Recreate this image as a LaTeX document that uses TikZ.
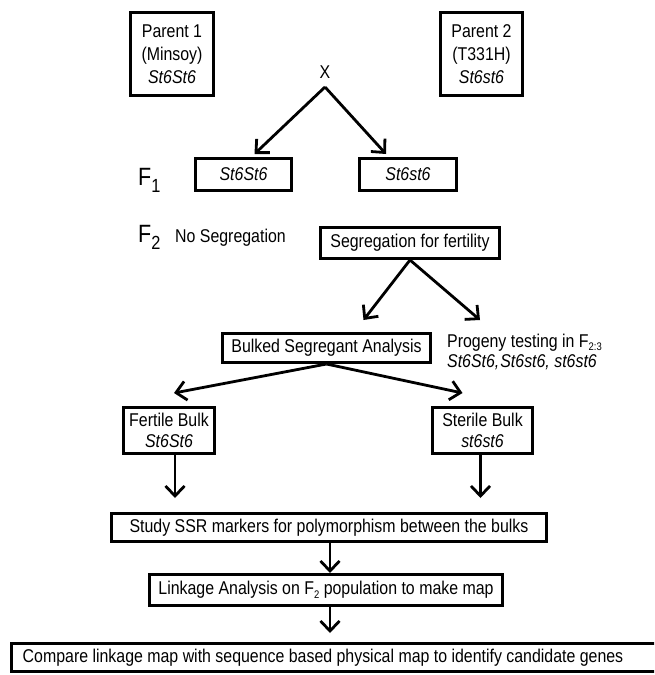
\documentclass[tikz,border=0pt]{standalone}
\usepackage{fontspec}
\setmainfont{Liberation Sans}[FakeStretch=0.86]
\usetikzlibrary{arrows.meta}

\begin{document}
\begin{tikzpicture}[
    x=1pt, y=-1pt,
    every node/.style={font=\fontsize{18.5}{23}\selectfont, inner sep=0pt},
    box/.style={draw, line width=3pt, align=center},
    bulk/.style={box, font=\fontsize{18.5}{21}\selectfont},
    flabel/.style={font=\fontsize{25}{25}\selectfont, anchor=base west},
    arr/.style={line width=2.8pt, -{Straight Barb[length=10pt, width=19pt]}}
]
    \clip (0,0) rectangle (654,675);

    % Parents and cross
    \node[box, minimum width=83pt, minimum height=83pt] (p1) at (172,54) {Parent 1\\(Minsoy)\\\textit{St6St6}};
    \node[box, minimum width=82pt, minimum height=83pt] (p2) at (481.5,54) {Parent 2\\(T331H)\\\textit{St6st6}};
    \node (cross) at (325,72) {X};
    \coordinate (apex) at (325,87);

    % F1 generation
    \node[flabel] (f1) at (138,185) {F\raisebox{-7pt}{\fontsize{19}{19}\selectfont 1}};
    \node[box, minimum width=96pt, minimum height=32pt] (f1a) at (243.5,174.5) {\textit{St6St6}};
    \node[box, minimum width=97pt, minimum height=32pt] (f1b) at (408,174.5) {\textit{St6st6}};

    % F2 generation
    \node[flabel] (f2) at (138,242) {F\raisebox{-7pt}{\fontsize{19}{19}\selectfont 2}};
    \node[anchor=base west] (noseg) at (175,242) {No Segregation};
    \node[box, minimum width=179pt, minimum height=31pt] (seg) at (410,243) {Segregation for fertility};

    % Bulked segregant analysis and progeny testing
    \node[box, minimum width=208pt, minimum height=29pt] (bsa) at (326.5,348) {Bulked Segregant Analysis};
    \node[anchor=west, align=left, font=\fontsize{18.5}{20}\selectfont] (prog) at (447,352)
        {Progeny testing in F\raisebox{-3pt}{\fontsize{11}{11}\selectfont 2:3}\\\textit{St6St6,\kern1pt St6st6, st6st6}};
    \coordinate (progtip) at (480,320);

    % Bulks
    \node[bulk, minimum width=91pt, minimum height=46pt] (fert) at (169,430.5) {Fertile Bulk\\\textit{St6St6}};
    \node[bulk, minimum width=100pt, minimum height=46pt] (ster) at (482.5,430.5) {Sterile Bulk\\\textit{st6st6}};

    % Marker study, mapping and comparison
    \node[box, minimum width=435pt, minimum height=28pt] (ssr) at (329,527.5) {Study SSR markers for polymorphism between the bulks};
    \node[box, minimum width=353pt, minimum height=31pt] (link) at (326,590)
        {Linkage Analysis on F\raisebox{-4pt}{\fontsize{11}{11}\selectfont 2} population to make map};
    \node[box, minimum width=651pt, minimum height=28pt] (comp) at (337,657.5)
        {Compare linkage map with sequence based physical map to identify candidate genes\hspace{28pt}};

    % Arrows
    \draw[arr] (apex) -- ([xshift=11pt, yshift=3pt]f1a.north);
    \draw[arr] (apex) -- ([xshift=-22pt, yshift=3pt]f1b.north);

    \draw[arr] (seg.south) -- ([xshift=37pt, yshift=12pt]bsa.north);
    \draw[arr] (seg.south) -- (progtip);

    \draw[arr] (bsa.south) -- ([xshift=5pt, yshift=13pt]fert.north);
    \draw[arr] (bsa.south) -- ([xshift=-20pt, yshift=13pt]ster.north);

    \draw[arr, shorten >=14pt] ([xshift=6pt]fert.south) -- ([xshift=6pt]fert.south |- ssr.north);
    \draw[arr, shorten >=14pt] ([xshift=-2pt]ster.south) -- ([xshift=-2pt]ster.south |- ssr.north);

    \draw[arr] ([xshift=1pt]ssr.south) -- ([xshift=1pt]ssr.south |- link.north);
    \draw[arr, shorten >=9pt] ([xshift=4pt]link.south) -- ([xshift=4pt]link.south |- comp.north);

\end{tikzpicture}
\end{document}
